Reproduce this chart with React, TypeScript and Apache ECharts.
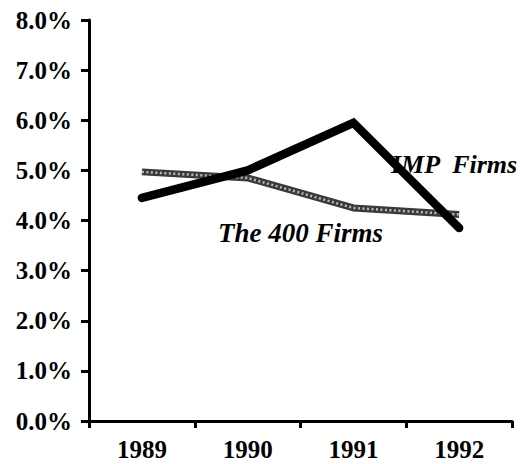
import React, { useEffect, useRef } from "react";
import * as echarts from "echarts";

const years = ["1989", "1990", "1991", "1992"];
const impFirms = [4.45, 5.0, 5.95, 3.85];
const firms400 = [4.97, 4.85, 4.25, 4.12];
const yTicks = [0, 1, 2, 3, 4, 5, 6, 7, 8];

const FONT = "Liberation Serif";

export default function App() {
  const ref = useRef<HTMLDivElement>(null);
  useEffect(() => {
    const chart = echarts.init(ref.current!, null, { renderer: "svg" });
    chart.setOption({
      animation: false,
      backgroundColor: "#fff",
      textStyle: { fontFamily: FONT },
      grid: { left: 89, right: 16, top: 20, bottom: 43, containLabel: false },
      xAxis: {
        type: "category",
        data: years,
        boundaryGap: true,
        axisLine: { lineStyle: { color: "#000", width: 3 } },
        axisTick: { show: true, length: 7, lineStyle: { color: "#000", width: 3 }, alignWithLabel: false },
        axisLabel: { color: "#000", fontFamily: FONT, fontWeight: "bold", fontSize: 25, margin: 16 },
        splitLine: { show: false },
      },
      yAxis: {
        type: "value",
        min: yTicks[0],
        max: yTicks[yTicks.length - 1],
        interval: 1,
        axisLine: { show: true, lineStyle: { color: "#000", width: 3 } },
        axisTick: { show: true, length: 8, lineStyle: { color: "#000", width: 3 } },
        axisLabel: {
          color: "#000",
          fontFamily: FONT,
          fontWeight: "bold",
          fontSize: 25,
          margin: 17,
          formatter: (v: number) => v.toFixed(1) + "%",
        },
        splitLine: { show: false },
      },
      series: [
        {
          name: "The 400 Firms",
          type: "line",
          data: firms400,
          symbol: "none",
          smooth: false,
          lineStyle: { color: "#3a3a3a", width: 7 },
          z: 2,
        },
        {
          name: "The 400 Firms pattern",
          type: "line",
          data: firms400,
          symbol: "none",
          lineStyle: { color: "#bbb", width: 2.5, type: [2, 2.5] },
          z: 3,
        },
        {
          name: "IMP Firms",
          type: "line",
          data: impFirms,
          symbol: "none",
          lineStyle: { color: "#000", width: 8.5, cap: "round", join: "miter" },
          z: 4,
        },
      ],
      graphic: [
        {
          type: "text",
          left: 391,
          top: 151,
          style: {
            text: "IMP  Firms",
            fill: "#000",
            fontFamily: FONT,
            fontStyle: "italic",
            fontWeight: "bold",
            fontSize: 26,
          },
        },
        {
          type: "text",
          left: 218,
          top: 219,
          style: {
            text: "The 400 Firms",
            fill: "#000",
            fontFamily: FONT,
            fontStyle: "italic",
            fontWeight: "bold",
            fontSize: 27,
          },
        },
      ],
    });
    return () => chart.dispose();
  }, []);
  return <div ref={ref} style={{ width: 528, height: 464, position: "absolute", left: 0, top: 0 }} />;
}
